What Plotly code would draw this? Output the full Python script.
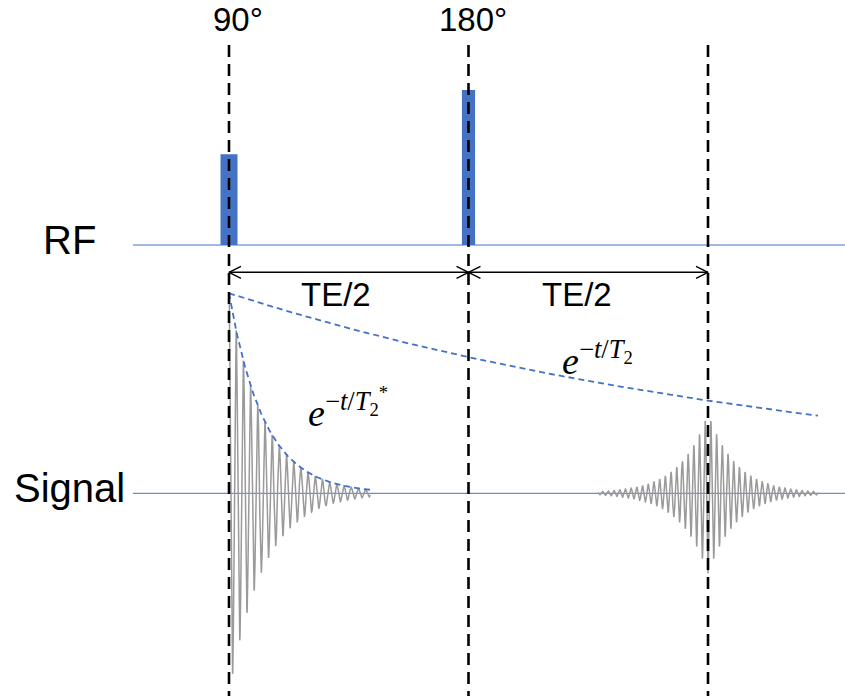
import numpy as np
import plotly.graph_objects as go

# ---- diagram values (time in units of TE/2, amplitude in units of initial signal) ----
event_times = [0.0, 1.0, 2.0]          # 90° pulse, 180° pulse, echo
pulse_labels = ["90°", "180°"]
pulse_times = [0.0, 1.0]
pulse_heights = [0.4535, 0.775]
pulse_widths = [0.071, 0.055]

rf_baseline = 1.2415
signal_baseline = 0.0
baseline_start = -0.401
baseline_end = 2.60

T2 = 2.6            # slow decay (spin echo envelope)
T2_star = 0.146     # fast decay of FID
fid_period = 0.030
fid_end = 0.59
echo_amp = 0.40
echo_tau = 0.117
echo_period = 0.0238
echo_halfwidth = 0.46
t2_env_end = 2.459

arrow_y = 1.105
vline_top = 2.2415
vline_bottom = -1.1

X_RANGE = [-0.95616, 2.57202]
Y_RANGE = [-1.0135, 2.4665]

BLUE = "#4472C4"
GREY = "#9a9a9a"
SANS = "Liberation Sans, Arial, sans-serif"
SERIF = "Liberation Serif, Times New Roman, serif"

fig = go.Figure()

# RF pulses
fig.add_trace(go.Bar(x=pulse_times, y=pulse_heights, base=rf_baseline,
                     width=pulse_widths, marker=dict(color=BLUE, line=dict(width=0)),
                     hoverinfo="skip"))

# baselines
for yb in [rf_baseline, signal_baseline]:
    fig.add_trace(go.Scatter(x=[baseline_start, baseline_end], y=[yb, yb], mode="lines",
                             line=dict(color=BLUE, width=1), hoverinfo="skip"))

# FID
t_fid = np.linspace(0, fid_end, 4000)
fid = np.exp(-t_fid / T2_star) * np.cos(2 * np.pi * t_fid / fid_period)
fig.add_trace(go.Scatter(x=t_fid, y=signal_baseline + fid, mode="lines",
                         line=dict(color=GREY, width=1.5), hoverinfo="skip"))

# Echo
te = event_times[2]
t_echo = np.linspace(te - echo_halfwidth, te + echo_halfwidth, 6000)
echo = -echo_amp * np.exp(-np.abs(t_echo - te) / echo_tau) * np.cos(2 * np.pi * (t_echo - te) / echo_period)
fig.add_trace(go.Scatter(x=t_echo, y=signal_baseline + echo, mode="lines",
                         line=dict(color=GREY, width=1.5), hoverinfo="skip"))

# envelopes
t_env2 = np.linspace(0, t2_env_end, 300)
fig.add_trace(go.Scatter(x=t_env2, y=np.exp(-t_env2 / T2), mode="lines",
                         line=dict(color=BLUE, width=1.8, dash="6px,4px"), hoverinfo="skip"))
t_envs = np.linspace(0, fid_end, 300)
fig.add_trace(go.Scatter(x=t_envs, y=np.exp(-t_envs / T2_star), mode="lines",
                         line=dict(color=BLUE, width=1.8, dash="6px,4px"), hoverinfo="skip"))

# vertical dashed event lines
vx, vy = [], []
for t in event_times:
    vx += [t, t, None]
    vy += [vline_top, vline_bottom, None]
fig.add_trace(go.Scatter(x=vx, y=vy, mode="lines",
                         line=dict(color="black", width=2.6, dash="12px,7px"), hoverinfo="skip"))

# TE/2 arrows with open heads
hl, hh = 0.05, 0.03
ax, ay = [], []
for a, b in [(event_times[0], event_times[1]), (event_times[1], event_times[2])]:
    ax += [a, b, None]
    ay += [arrow_y, arrow_y, None]
    ax += [a + hl, a, a + hl, None]
    ay += [arrow_y + hh, arrow_y, arrow_y - hh, None]
    ax += [b - hl, b, b - hl, None]
    ay += [arrow_y + hh, arrow_y, arrow_y - hh, None]
fig.add_trace(go.Scatter(x=ax, y=ay, mode="lines", line=dict(color="black", width=1.5),
                         hoverinfo="skip"))

# text
def label(x, y, text, size, family=SANS):
    fig.add_annotation(x=x, y=y, xref="x", yref="y", text=text, showarrow=False,
                       xanchor="center", yanchor="middle",
                       font=dict(family=family, size=size, color="black"))

label(0.0376, 2.369, pulse_labels[0], 33)
label(1.0167, 2.369, pulse_labels[1], 33)
label(-0.668, 1.269, "RF", 40)
label(-0.668, 0.0265, "Signal", 40)
label(0.447, 0.994, "TE/2", 33)
label(1.455, 0.994, "TE/2", 33)
label(0.495, 0.425, "<i>e</i><sup>−<i>t</i>/<i>T</i><sub>2</sub><sup>*</sup></sup>", 38, SERIF)
label(1.54, 0.675, "<i>e</i><sup>−<i>t</i>/<i>T</i><sub>2</sub></sup>", 38, SERIF)

fig.update_layout(width=845, height=696, margin=dict(l=0, r=0, t=0, b=0),
                  paper_bgcolor="white", plot_bgcolor="white", showlegend=False,
                  barmode="overlay")
fig.update_xaxes(range=X_RANGE, visible=False, fixedrange=True)
fig.update_yaxes(range=Y_RANGE, visible=False, fixedrange=True)

fig.write_html("out.html", config={"displayModeBar": False})
